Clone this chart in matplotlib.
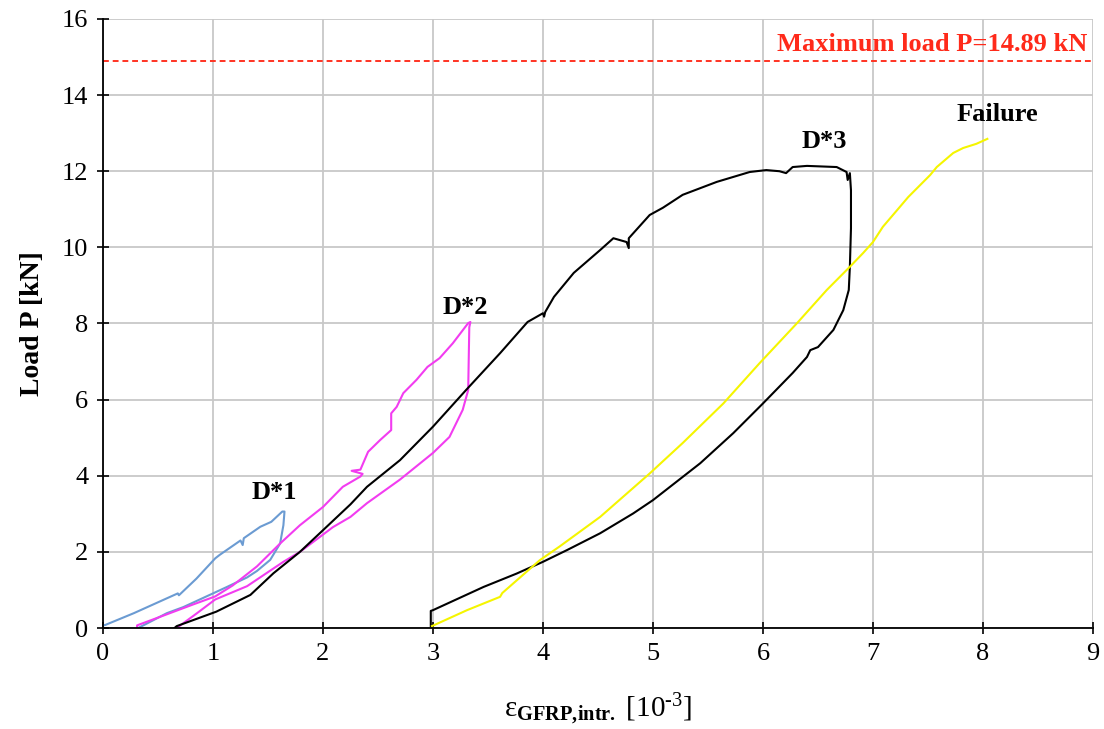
import matplotlib
matplotlib.use("Agg")
import matplotlib.pyplot as plt

# D*1 cycle: loading up to ~3.06 kN, then unloading
d1_strain = [0.0, 0.02, 0.28, 0.68, 0.69, 0.85, 1.02, 1.06, 1.25, 1.27, 1.28, 1.43, 1.53, 1.63, 1.65,
             1.64, 1.61, 1.52, 1.40, 1.31, 1.12, 0.97, 0.73, 0.58, 0.32]
d1_load = [0.07, 0.08, 0.39, 0.91, 0.86, 1.30, 1.83, 1.92, 2.30, 2.18, 2.36, 2.66, 2.79, 3.06, 3.06,
           2.70, 2.22, 1.79, 1.50, 1.33, 1.07, 0.87, 0.55, 0.39, 0.0]

# D*2 cycle
d2_strain = [0.31, 0.31, 0.58, 0.82, 1.02, 1.18, 1.40, 1.61, 1.79, 2.00, 2.18, 2.34, 2.36, 2.26, 2.34,
             2.41, 2.52, 2.62, 2.62, 2.67, 2.73, 2.85, 2.95, 3.06, 3.18, 3.32, 3.34, 3.33, 3.32,
             3.27, 3.15, 3.00, 2.70, 2.40, 2.25, 2.09, 1.79, 1.64, 1.31, 1.02, 0.85, 0.67]
d2_load = [0.0, 0.07, 0.36, 0.62, 0.83, 1.12, 1.62, 2.22, 2.70, 3.18, 3.71, 3.98, 4.05, 4.13, 4.16,
           4.63, 4.94, 5.20, 5.64, 5.81, 6.17, 6.52, 6.86, 7.09, 7.48, 8.01, 8.04, 7.90, 6.25,
           5.73, 5.02, 4.60, 3.90, 3.28, 2.92, 2.65, 2.00, 1.74, 1.10, 0.75, 0.38, 0.0]

# D*3 cycle
d3_strain = [0.65, 0.67, 1.03, 1.34, 1.55, 1.79, 2.00, 2.25, 2.40, 2.70, 3.00, 3.30, 3.61, 3.86, 4.00,
             4.01, 4.02, 4.10, 4.28, 4.52, 4.64, 4.76, 4.78, 4.78, 4.97, 5.09, 5.27, 5.58, 5.88,
             6.03, 6.15, 6.21, 6.27, 6.40, 6.67, 6.76, 6.77, 6.79, 6.80, 6.80, 6.79, 6.78, 6.73,
             6.64, 6.50, 6.43, 6.40, 6.27, 6.00, 5.73, 5.43, 5.00, 4.82, 4.52, 4.22, 4.00, 3.76,
             3.46, 3.00, 2.98, 2.98]
d3_load = [0.0, 0.05, 0.43, 0.87, 1.44, 2.00, 2.57, 3.25, 3.71, 4.41, 5.29, 6.25, 7.22, 8.04, 8.27,
           8.18, 8.30, 8.70, 9.33, 9.93, 10.24, 10.14, 9.98, 10.24, 10.85, 11.04, 11.38, 11.72, 11.98,
           12.03, 12.00, 11.95, 12.11, 12.14, 12.11, 11.98, 11.77, 11.95, 11.50, 10.50, 9.49, 8.88, 8.35,
           7.83, 7.38, 7.30, 7.12, 6.70, 5.90, 5.12, 4.33, 3.36, 3.01, 2.49, 2.05, 1.74, 1.43,
           1.08, 0.47, 0.45, 0.05]

# final loading up to failure
fail_strain = [2.99, 3.31, 3.61, 3.63, 3.97, 4.15, 4.52, 4.97, 5.27, 5.64, 5.97, 6.31, 6.58, 6.79,
               6.91, 7.00, 7.09, 7.22, 7.32, 7.52, 7.58, 7.73, 7.82, 7.94, 8.04]
fail_load = [0.05, 0.47, 0.82, 0.92, 1.78, 2.14, 2.92, 4.06, 4.86, 5.90, 6.96, 8.01, 8.88, 9.49,
             9.85, 10.14, 10.54, 10.98, 11.32, 11.90, 12.11, 12.48, 12.61, 12.72, 12.85]

max_load = 14.89

labels = ["D*1", "D*2", "D*3", "Failure"]
label_x = [1.56, 3.29, 6.56, 8.13]
label_y = [3.57, 8.43, 12.77, 13.48]

plt.rcParams['font.family'] = ['Liberation Serif', 'DejaVu Serif']
plt.rcParams['mathtext.fontset'] = 'custom'
plt.rcParams['mathtext.rm'] = 'Liberation Serif'
plt.rcParams['mathtext.bf'] = 'Liberation Serif:bold'
plt.rcParams['mathtext.it'] = 'Liberation Serif:italic'

fig = plt.figure(figsize=(11.04, 7.29), dpi=100)
ax = fig.add_axes([0.0933, 0.1385, 0.8967, 0.8355])

ax.plot(d1_strain, d1_load, color='#6b9bd2', lw=1.5)
ax.plot(d2_strain, d2_load, color='#f23cf0', lw=1.5)
ax.plot(d3_strain, d3_load, color='black', lw=1.5)
ax.plot(fail_strain, fail_load, color='#f5f500', lw=1.5)

ax.axhline(max_load, color='#ff3322', lw=1.4, linestyle=(0, (3, 2)))
ax.text(8.95, 15.34, f"Maximum load P={max_load} kN", color='#ff2a1a', fontsize=19,
        fontweight='bold', ha='right', va='center')

for name, lx, ly in zip(labels, label_x, label_y):
    ax.text(lx, ly, name, fontsize=19, fontweight='bold', ha='center', va='center')

ax.set_xlim(0, 9)
ax.set_ylim(0, 16)
ax.set_xticks(range(0, 10))
ax.set_yticks(range(0, 17, 2))
ax.grid(True, color='#c8c8c8', lw=1.3)
ax.set_axisbelow(True)
ax.spines['top'].set_visible(False)
ax.spines['right'].set_visible(False)
for s in ['left', 'bottom']:
    ax.spines[s].set_linewidth(1.3)
ax.tick_params(direction='inout', length=9, width=1.2, labelsize=19, pad=6)

ax.set_xlabel(r'ε$_{\mathbf{GFRP{,}intr.}}$ [10$^{\text{-3}}$]', fontsize=21, labelpad=20)
ax.set_ylabel('Load P [kN]', fontsize=20, fontweight='bold', labelpad=12)

fig.savefig('out.png', dpi=100)
